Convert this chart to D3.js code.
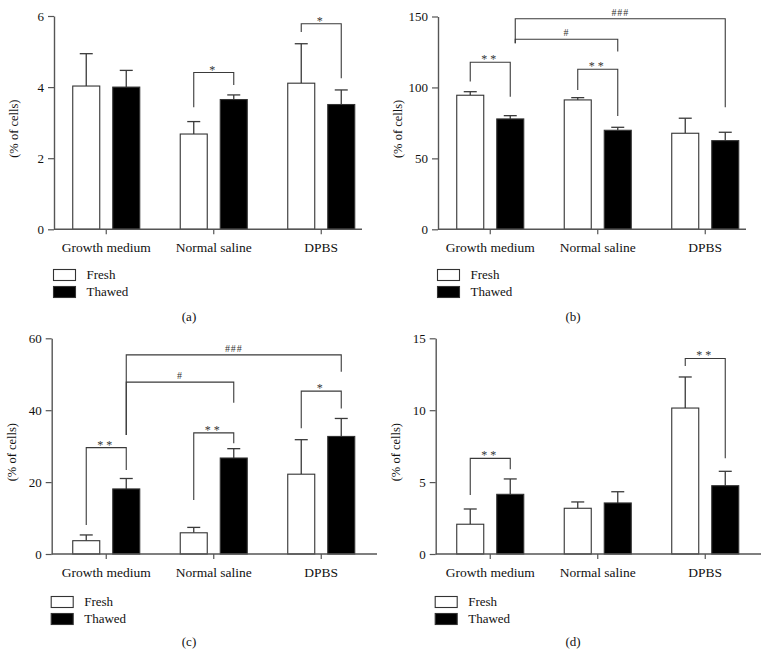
<!DOCTYPE html>
<html><head><meta charset="utf-8">
<script src="https://cdn.jsdelivr.net/npm/d3@7"></script>
<style>
body{margin:0;background:#fff}
svg{display:block}
svg text{font-family:"Liberation Serif",serif !important}
</style>
</head><body>
<svg id="chart" width="768" height="657" font-family="Liberation Serif"></svg>
<script>
// ---------- data ----------
const categories = ["Growth medium", "Normal saline", "DPBS"];
const series = ["Fresh", "Thawed"];

const aTicks = [0, 2, 4, 6];
const aFresh = [4.03, 2.68, 4.11];
const aFreshErr = [0.91, 0.35, 1.11];
const aThawed = [4.00, 3.65, 3.51];
const aThawedErr = [0.47, 0.13, 0.41];

const bTicks = [0, 50, 100, 150];
const bFresh = [94.5, 91.2, 67.7];
const bFreshErr = [2.5, 1.6, 10.6];
const bThawed = [77.8, 69.8, 62.5];
const bThawedErr = [2.3, 2.1, 5.9];

const cTicks = [0, 20, 40, 60];
const cFresh = [3.7, 5.9, 22.2];
const cFreshErr = [1.6, 1.5, 9.6];
const cThawed = [18.1, 26.7, 32.7];
const cThawedErr = [2.9, 2.6, 5.0];

const dTicks = [0, 5, 10, 15];
const dFresh = [2.07, 3.18, 10.15];
const dFreshErr = [1.06, 0.44, 2.16];
const dThawed = [4.15, 3.55, 4.75];
const dThawedErr = [1.07, 0.78, 1.00];

// significance brackets: from/to = [categoryIndex, seriesIndex]; y1/y2 leg bottoms, top = bar height (data units)
const aBrackets = [
  {from:[1,0], to:[1,1], y1:3.43, top:4.41, y2:4.06, label:"*"},
  {from:[2,0], to:[2,1], y1:5.55, top:5.78, y2:4.25, label:"*"}
];
const bBrackets = [
  {from:[0,0], to:[0,1], y1:104.1, top:117.8, y2:93.5, label:"**"},
  {from:[1,0], to:[1,1], y1:98.2, top:112.8, y2:79.9, label:"**"},
  {from:[0,1], to:[1,1], y1:131.2, top:134.0, y2:125.3, label:"#", dx1:5},
  {from:[0,1], to:[2,1], y1:131.2, top:148.4, y2:86.0, label:"###", dx1:5}
];
const cBrackets = [
  {from:[0,0], to:[0,1], y1:8.1, top:29.6, y2:23.4, label:"**"},
  {from:[1,0], to:[1,1], y1:15.0, top:33.7, y2:30.8, label:"**"},
  {from:[2,0], to:[2,1], y1:35.0, top:45.3, y2:40.5, label:"*"},
  {from:[0,1], to:[1,1], y1:33.1, top:47.8, y2:42.1, label:"#"},
  {from:[0,1], to:[2,1], y1:33.1, top:55.4, y2:50.7, label:"###"}
];
const dBrackets = [
  {from:[0,0], to:[0,1], y1:4.1, top:6.65, y2:5.9, label:"**"},
  {from:[2,0], to:[2,1], y1:13.07, top:13.6, y2:6.65, label:"**"}
];

const yLabel = "(% of cells)";

// ---------- layout ----------
const panels = [
  {tag:"(a)", ox:0,   oy:0,   ticks:aTicks, fresh:aFresh, freshErr:aFreshErr, thawed:aThawed, thawedErr:aThawedErr, brackets:aBrackets,
   axisX:54, y0:229.3, yTop:16, axisEnd:362, legendTop:269.5, tagY:321},
  {tag:"(b)", ox:384, oy:0,   ticks:bTicks, fresh:bFresh, freshErr:bFreshErr, thawed:bThawed, thawedErr:bThawedErr, brackets:bBrackets,
   axisX:54, y0:229.3, yTop:16.5, axisEnd:362, legendTop:269.5, tagY:321},
  {tag:"(c)", ox:0,   oy:330, ticks:cTicks, fresh:cFresh, freshErr:cFreshErr, thawed:cThawed, thawedErr:cThawedErr, brackets:cBrackets,
   axisX:51.7, y0:224, yTop:8.3, axisEnd:377, legendTop:266.5, tagY:316},
  {tag:"(d)", ox:384, oy:330, ticks:dTicks, fresh:dFresh, freshErr:dFreshErr, thawed:dThawed, thawedErr:dThawedErr, brackets:dBrackets,
   axisX:51.7, y0:224, yTop:8.3, axisEnd:377, legendTop:266.5, tagY:316}
];

const FONT = '"Liberation Serif", serif';
const TXT = "#111";
const svg = d3.select("#chart");
svg.append("rect").attr("width",768).attr("height",657).attr("fill","#fff");

const axisColor = "#555";
const lineColor = "#3a3a3a";

panels.forEach(p => {
  const g = svg.append("g").attr("transform", `translate(${p.ox},${p.oy})`);
  const x = d3.scaleBand().domain(categories).range([52.5, 375]).paddingInner(0).paddingOuter(0);
  const xs = d3.scaleBand().domain(series).range([0, x.bandwidth()]).paddingInner(0.325).paddingOuter(0.506);
  const y = d3.scaleLinear().domain([0, d3.max(p.ticks)]).range([p.y0, p.yTop]);

  const cx = (ci, si) => x(categories[ci]) + xs(series[si]) + xs.bandwidth() / 2;

  const rows = [];
  categories.forEach((c, i) => {
    rows.push({c, s:"Fresh", v:p.fresh[i], e:p.freshErr[i]});
    rows.push({c, s:"Thawed", v:p.thawed[i], e:p.thawedErr[i]});
  });

  // error bars (upper only)
  const eg = g.append("g").attr("stroke", lineColor).attr("stroke-width", 1.3).attr("fill","none");
  rows.forEach(r => {
    const xc = x(r.c) + xs(r.s) + xs.bandwidth() / 2;
    eg.append("line").attr("x1", xc).attr("x2", xc).attr("y1", y(r.v)).attr("y2", y(r.v + r.e));
    eg.append("line").attr("x1", xc - 6.5).attr("x2", xc + 6.5).attr("y1", y(r.v + r.e)).attr("y2", y(r.v + r.e));
  });

  // bars
  g.append("g").selectAll("rect").data(rows).join("rect")
    .attr("x", d => x(d.c) + xs(d.s))
    .attr("width", xs.bandwidth())
    .attr("y", d => y(d.v))
    .attr("height", d => y(0) - y(d.v))
    .attr("fill", d => d.s === "Fresh" ? "#fff" : "#000")
    .attr("stroke", "#333")
    .attr("stroke-width", 1.1);

  // y axis
  const ya = g.append("g").attr("transform", `translate(${p.axisX},0)`)
    .call(d3.axisLeft(y).tickValues(p.ticks).tickFormat(d3.format("d")).tickSize(6).tickPadding(4).tickSizeOuter(0));
  ya.attr("font-family", FONT);
  ya.select(".domain").attr("stroke", axisColor).attr("stroke-width", 1.4);
  ya.selectAll(".tick line").attr("stroke", axisColor).attr("stroke-width", 1.2);
  ya.selectAll(".tick text").attr("fill", TXT).attr("font-size", 13).attr("font-family", FONT);

  // x axis
  const xa = g.append("g").attr("transform", `translate(0,${p.y0})`)
    .call(d3.axisBottom(x).tickSize(5).tickPadding(8).tickSizeOuter(0));
  xa.attr("font-family", FONT);
  xa.select(".domain").remove();
  xa.selectAll(".tick line").attr("stroke", axisColor).attr("stroke-width", 1.2);
  xa.selectAll(".tick text").attr("fill", TXT).attr("font-size", 13.5).attr("font-family", FONT);
  g.append("line").attr("x1", p.axisX).attr("x2", p.axisEnd).attr("y1", p.y0).attr("y2", p.y0)
    .attr("stroke", axisColor).attr("stroke-width", 1.4);

  // y label
  g.append("text")
    .attr("transform", `translate(${p.axisX - 36},${(p.y0 + p.yTop) / 2 + 6}) rotate(-90)`)
    .attr("text-anchor", "middle").attr("fill", TXT).attr("font-size", 12.5).attr("font-family", FONT)
    .text(yLabel);

  // brackets
  const bg = g.append("g");
  p.brackets.forEach(b => {
    const x1 = cx(b.from[0], b.from[1]) + (b.dx1 || 0);
    const x2 = cx(b.to[0], b.to[1]);
    const yt = y(b.top);
    bg.append("path")
      .attr("d", `M${x1},${y(b.y1)}V${yt}H${x2}V${y(b.y2)}`)
      .attr("fill", "none").attr("stroke", lineColor).attr("stroke-width", 1.1);
    const isHash = b.label.indexOf("#") >= 0;
    bg.append("text")
      .attr("x", (x1 + x2) / 2)
      .attr("y", isHash ? yt - 3 : yt + 1)
      .attr("text-anchor", "middle")
      .attr("fill", "#333")
      .attr("font-family", FONT)
      .attr("font-size", isHash ? 10 : 12)
      .style("letter-spacing", isHash ? "0.8px" : "3px")
      .text(b.label);
  });

  // legend
  const lg = g.append("g").attr("transform", `translate(${p.axisX - 0.5},${p.legendTop})`);
  series.forEach((s, i) => {
    lg.append("rect").attr("x", 0).attr("y", i * 17).attr("width", 22).attr("height", 11)
      .attr("fill", s === "Fresh" ? "#fff" : "#000").attr("stroke", "#333").attr("stroke-width", 1.1);
    lg.append("text").attr("x", 33).attr("y", i * 17 + 9.8).attr("fill", TXT)
      .attr("font-family", FONT).attr("font-size", 13).text(s);
  });

  // panel tag
  g.append("text").attr("x", 189).attr("y", p.tagY).attr("text-anchor", "middle")
    .attr("fill", TXT).attr("font-family", FONT).attr("font-size", 13).text(p.tag);
});
</script>
</body></html>
